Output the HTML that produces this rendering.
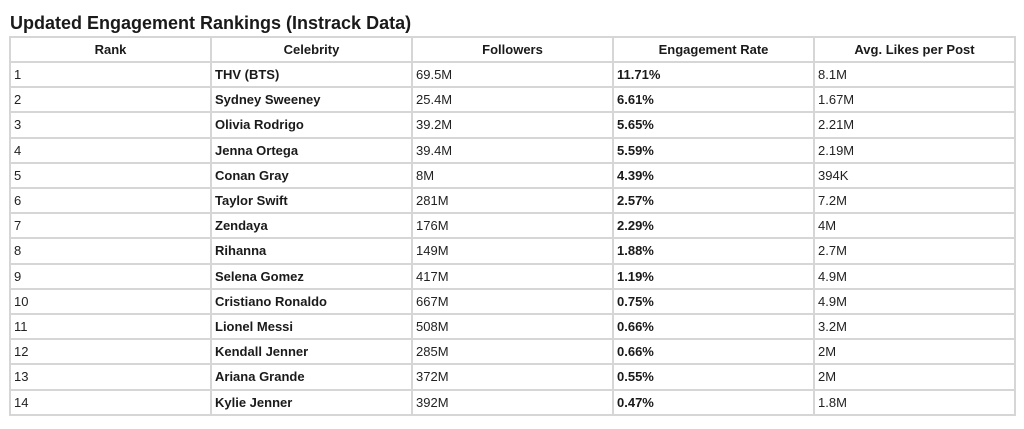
<!DOCTYPE html>
<html>
<head>
<meta charset="utf-8">
<style>
html,body{margin:0;padding:0;background:#fff;}
body{width:1024px;height:429px;position:relative;overflow:hidden;font-family:"Liberation Sans",Arial,sans-serif;color:#222;}
.title{position:absolute;left:10px;top:12px;font-size:18px;line-height:22px;font-weight:bold;color:#1a1a1a;white-space:nowrap;}
.h{position:absolute;left:10px;width:1006px;height:2px;background:#d6d6d6;}
.v{position:absolute;top:36px;width:2px;height:380px;background:#d6d6d6;}
.c{position:absolute;font-size:13px;white-space:nowrap;height:25px;line-height:25px;}
.b{font-weight:bold;color:#1a1a1a;}
.hd{font-weight:bold;text-align:center;width:201px;color:#1a1a1a;}
</style>
</head>
<body>
<div class="title">Updated Engagement Rankings (Instrack Data)</div>

<div class="h" style="top:36px"></div>
<div class="h" style="top:61px"></div>
<div class="h" style="top:86px"></div>
<div class="h" style="top:111px"></div>
<div class="h" style="top:137px"></div>
<div class="h" style="top:162px"></div>
<div class="h" style="top:187px"></div>
<div class="h" style="top:212px"></div>
<div class="h" style="top:237px"></div>
<div class="h" style="top:263px"></div>
<div class="h" style="top:288px"></div>
<div class="h" style="top:313px"></div>
<div class="h" style="top:338px"></div>
<div class="h" style="top:363px"></div>
<div class="h" style="top:389px"></div>
<div class="h" style="top:414px"></div>

<div class="v" style="left:9px"></div>
<div class="v" style="left:210px"></div>
<div class="v" style="left:411px"></div>
<div class="v" style="left:612px"></div>
<div class="v" style="left:813px"></div>
<div class="v" style="left:1014px"></div>

<div class="c hd" style="left:10px;top:37px">Rank</div>
<div class="c hd" style="left:211px;top:37px">Celebrity</div>
<div class="c hd" style="left:412px;top:37px">Followers</div>
<div class="c hd" style="left:613px;top:37px">Engagement Rate</div>
<div class="c hd" style="left:814px;top:37px">Avg. Likes per Post</div>

<!-- rows -->
<div class="c" style="left:14px;top:62px">1</div><div class="c b" style="left:215px;top:62px">THV (BTS)</div><div class="c" style="left:416px;top:62px">69.5M</div><div class="c b" style="left:617px;top:62px">11.71%</div><div class="c" style="left:818px;top:62px">8.1M</div>
<div class="c" style="left:14px;top:87px">2</div><div class="c b" style="left:215px;top:87px">Sydney Sweeney</div><div class="c" style="left:416px;top:87px">25.4M</div><div class="c b" style="left:617px;top:87px">6.61%</div><div class="c" style="left:818px;top:87px">1.67M</div>
<div class="c" style="left:14px;top:112px">3</div><div class="c b" style="left:215px;top:112px">Olivia Rodrigo</div><div class="c" style="left:416px;top:112px">39.2M</div><div class="c b" style="left:617px;top:112px">5.65%</div><div class="c" style="left:818px;top:112px">2.21M</div>
<div class="c" style="left:14px;top:138px">4</div><div class="c b" style="left:215px;top:138px">Jenna Ortega</div><div class="c" style="left:416px;top:138px">39.4M</div><div class="c b" style="left:617px;top:138px">5.59%</div><div class="c" style="left:818px;top:138px">2.19M</div>
<div class="c" style="left:14px;top:163px">5</div><div class="c b" style="left:215px;top:163px">Conan Gray</div><div class="c" style="left:416px;top:163px">8M</div><div class="c b" style="left:617px;top:163px">4.39%</div><div class="c" style="left:818px;top:163px">394K</div>
<div class="c" style="left:14px;top:188px">6</div><div class="c b" style="left:215px;top:188px">Taylor Swift</div><div class="c" style="left:416px;top:188px">281M</div><div class="c b" style="left:617px;top:188px">2.57%</div><div class="c" style="left:818px;top:188px">7.2M</div>
<div class="c" style="left:14px;top:213px">7</div><div class="c b" style="left:215px;top:213px">Zendaya</div><div class="c" style="left:416px;top:213px">176M</div><div class="c b" style="left:617px;top:213px">2.29%</div><div class="c" style="left:818px;top:213px">4M</div>
<div class="c" style="left:14px;top:238px">8</div><div class="c b" style="left:215px;top:238px">Rihanna</div><div class="c" style="left:416px;top:238px">149M</div><div class="c b" style="left:617px;top:238px">1.88%</div><div class="c" style="left:818px;top:238px">2.7M</div>
<div class="c" style="left:14px;top:264px">9</div><div class="c b" style="left:215px;top:264px">Selena Gomez</div><div class="c" style="left:416px;top:264px">417M</div><div class="c b" style="left:617px;top:264px">1.19%</div><div class="c" style="left:818px;top:264px">4.9M</div>
<div class="c" style="left:14px;top:289px">10</div><div class="c b" style="left:215px;top:289px">Cristiano Ronaldo</div><div class="c" style="left:416px;top:289px">667M</div><div class="c b" style="left:617px;top:289px">0.75%</div><div class="c" style="left:818px;top:289px">4.9M</div>
<div class="c" style="left:14px;top:314px">11</div><div class="c b" style="left:215px;top:314px">Lionel Messi</div><div class="c" style="left:416px;top:314px">508M</div><div class="c b" style="left:617px;top:314px">0.66%</div><div class="c" style="left:818px;top:314px">3.2M</div>
<div class="c" style="left:14px;top:339px">12</div><div class="c b" style="left:215px;top:339px">Kendall Jenner</div><div class="c" style="left:416px;top:339px">285M</div><div class="c b" style="left:617px;top:339px">0.66%</div><div class="c" style="left:818px;top:339px">2M</div>
<div class="c" style="left:14px;top:364px">13</div><div class="c b" style="left:215px;top:364px">Ariana Grande</div><div class="c" style="left:416px;top:364px">372M</div><div class="c b" style="left:617px;top:364px">0.55%</div><div class="c" style="left:818px;top:364px">2M</div>
<div class="c" style="left:14px;top:390px">14</div><div class="c b" style="left:215px;top:390px">Kylie Jenner</div><div class="c" style="left:416px;top:390px">392M</div><div class="c b" style="left:617px;top:390px">0.47%</div><div class="c" style="left:818px;top:390px">1.8M</div>
</body>
</html>
